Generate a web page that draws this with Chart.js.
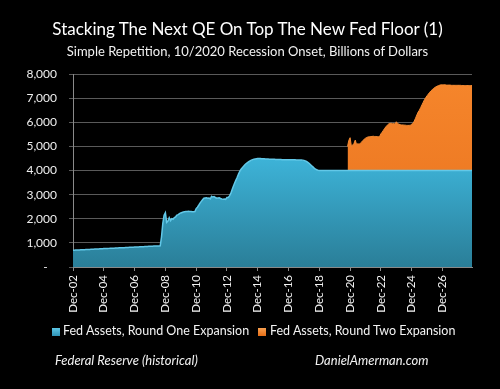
<!DOCTYPE html>
<html><head><meta charset="utf-8">
<script src="https://cdn.jsdelivr.net/npm/chart.js@4.4.1/dist/chart.umd.min.js"></script>
<style>
html,body{margin:0;padding:0;background:#000;}
#wrap{position:relative;width:500px;height:389px;overflow:hidden;background:#000;font-family:Lato,"Open Sans",sans-serif;color:#fff;}
canvas{position:absolute;left:0;top:0;}
.t{position:absolute;left:0;width:495px;text-align:center;white-space:nowrap;line-height:1;}
#title{top:20px;font-size:17px;color:#fff;}
#sub{top:45px;font-size:13px;color:#f2f2f2;}
.leg{position:absolute;top:325px;font-size:12.5px;line-height:1;white-space:nowrap;color:#f2f2f2;}
.box{position:absolute;top:328px;width:8px;height:8px;}
.foot{position:absolute;top:354px;font-size:13px;font-style:italic;line-height:1;white-space:nowrap;color:#f2f2f2;}
</style></head>
<body><div id="wrap">
<canvas id="c" width="500" height="389"></canvas>
<div class="t" id="title">Stacking The Next QE On Top The New Fed Floor (1)</div>
<div class="t" id="sub">Simple Repetition, 10/2020 Recession Onset, Billions of Dollars</div>
<div class="box" style="left:52px;background:linear-gradient(#5cc6e6,#2f93b6);"></div>
<div class="leg" id="leg1" style="left:63px;"></div>
<div class="box" style="left:258px;background:linear-gradient(#f8a050,#e66d16);"></div>
<div class="leg" id="leg2" style="left:270px;"></div>
<div class="foot" style="left:55px;">Federal Reserve (historical)</div>
<div class="foot" style="left:315px;">DanielAmerman.com</div>
</div>
<script>
// ---- data ----
const seriesNames = ["Fed Assets, Round One Expansion", "Fed Assets, Round Two Expansion"];
const firstMonth = "Dec-02";
const monthNames = ["Jan","Feb","Mar","Apr","May","Jun","Jul","Aug","Sep","Oct","Nov","Dec"];
const tickLabels = ["Dec-02","Dec-04","Dec-06","Dec-08","Dec-10","Dec-12","Dec-14","Dec-16","Dec-18","Dec-20","Dec-22","Dec-24","Dec-26"];

// Round One: monthly, Dec-02 .. Nov-28
const blueValues = [
  695,
  698,700,702,705,708,712,714,716,720,722,725,728,
  730,733,735,738,742,745,748,750,752,755,758,762,
  764,766,770,772,775,778,780,782,785,788,790,794,
  796,798,800,803,806,810,812,815,818,820,823,826,
  828,830,833,836,838,840,843,846,850,852,856,860,
  862,864,866,868,870,872,874,876,1250,1810,2150,2250,
  1850,1900,2040,1920,2000,1980,2050,2080,2150,2170,2210,2240,
  2260,2280,2290,2300,2300,2310,2300,2300,2290,2290,2300,2420,
  2480,2560,2650,2720,2790,2850,2860,2870,2850,2860,2820,2930,
  2900,2920,2880,2850,2860,2870,2840,2820,2810,2820,2800,2880,
  2880,2950,3050,3200,3350,3480,3600,3720,3850,3960,4050,4120,
  4180,4240,4290,4330,4370,4400,4430,4450,4470,4480,4490,4500,
  4500,4500,4490,4490,4490,4480,4480,4480,4470,4470,4470,4470,
  4470,4460,4460,4460,4460,4460,4450,4450,4450,4450,4450,4450,
  4450,4450,4450,4450,4450,4440,4440,4440,4440,4440,4430,4420,
  4400,4380,4340,4300,4250,4200,4150,4100,4060,4030,4010,4000,
  4000,4000,4000,4000,4000,4000,4000,4000,4000,4000,4000,4000,
  4000,4000,4000,4000,4000,4000,4000,4000,4000,4000,4000,4000,
  4000,4000,4000,4000,4000,4000,4000,4000,4000,4000,4000,4000,
  4000,4000,4000,4000,4000,4000,4000,4000,4000,4000,4000,4000,
  4000,4000,4000,4000,4000,4000,4000,4000,4000,4000,4000,4000,
  4000,4000,4000,4000,4000,4000,4000,4000,4000,4000,4000,4000,
  4000,4000,4000,4000,4000,4000,4000,4000,4000,4000,4000,4000,
  4000,4000,4000,4000,4000,4000,4000,4000,4000,4000,4000,4000,
  4000,4000,4000,4000,4000,4000,4000,4000,4000,4000,4000,4000,
  4000,4000,4000,4000,4000,4000,4000,4000,4000,4000,4000
];

// Round Two (stacked on top of the floor): monthly, Oct-20 .. Nov-28
const orangeStart = "Oct-20";
const orangeValues = [
  1000,1250,1360,
  1000,1060,1120,1260,1080,1110,1090,1130,1180,1240,1300,1340,
  1370,1390,1400,1410,1410,1420,1410,1410,1400,1400,1410,1520,
  1590,1670,1750,1820,1880,1930,1950,1960,1940,1950,1920,2020,
  1950,1920,1900,1890,1890,1880,1880,1870,1870,1870,1880,1920,
  1950,2050,2170,2300,2420,2500,2610,2720,2830,2940,3030,3100,
  3170,3240,3300,3350,3400,3440,3470,3500,3520,3540,3550,3550,
  3550,3550,3540,3540,3540,3540,3530,3530,3530,3530,3530,3530,
  3530,3530,3520,3520,3520,3520,3520,3520,3520,3520,3520
];

const yTicks = {min: 0, max: 8000, step: 1000};

// ---- build labels / table ----
const labels = [];
{
  let m = monthNames.indexOf(firstMonth.slice(0,3));
  let y = 2000 + parseInt(firstMonth.slice(4), 10);
  for (let k = 0; k < blueValues.length; k++) {
    labels.push(monthNames[m] + "-" + String(y % 100).padStart(2, "0"));
    m++; if (m === 12) { m = 0; y++; }
  }
}
const oStartIdx = labels.indexOf(orangeStart);
const orangeData = labels.map((l, i) => i < oStartIdx ? null : orangeValues[i - oStartIdx]);

document.getElementById("leg1").textContent = seriesNames[0];
document.getElementById("leg2").textContent = seriesNames[1];

function vGrad(chart, topVal, c1, c2) {
  const ca = chart.chartArea;
  if (!ca) return c1;
  const y0 = chart.scales.y.getPixelForValue(topVal);
  const g = chart.ctx.createLinearGradient(0, y0, 0, ca.bottom);
  g.addColorStop(0, c1);
  g.addColorStop(1, c2);
  return g;
}

Chart.defaults.font.family = "Lato";
new Chart(document.getElementById("c"), {
  type: "line",
  data: {
    labels: labels,
    datasets: [
      {
        label: seriesNames[0],
        data: blueValues,
        fill: "origin",
        backgroundColor: (ctx) => vGrad(ctx.chart, Math.max(...blueValues), "#3db3d8", "#2a7e98"),
        borderColor: "#62c8e8",
        borderWidth: 1.5,
        pointRadius: 0,
        tension: 0
      },
      {
        label: seriesNames[1],
        data: orangeData,
        fill: "-1",
        backgroundColor: (ctx) => vGrad(ctx.chart, 7600, "#f5852b", "#e8711d"),
        borderColor: "#f68c34",
        borderWidth: 1,
        pointRadius: 0,
        tension: 0,
        spanGaps: false
      }
    ]
  },
  options: {
    responsive: false,
    animation: false,
    devicePixelRatio: 1,
    layout: {padding: {left: 0, right: 28, top: 74, bottom: 72}},
    plugins: {legend: {display: false}, tooltip: {enabled: false}, title: {display: false}},
    scales: {
      x: {
        type: "category",
        offset: false,
        grid: {display: true, drawOnChartArea: false, drawTicks: true, tickLength: 4, color: "#8a8a8a"},
        border: {display: true, color: "#8a8a8a"},
        ticks: {autoSkip: false, maxRotation: 90, minRotation: 90, color: "#f2f2f2", font: {size: 11.5}, padding: 4},
        afterBuildTicks: (s) => { s.ticks = s.ticks.filter(t => tickLabels.includes(labels[t.value])); },
        afterFit: (s) => { s.height = 50; }
      },
      y: {
        stacked: true,
        min: yTicks.min,
        max: yTicks.max,
        ticks: {
          stepSize: yTicks.step, color: "#eeeeee", font: {size: 12}, padding: 12,
          callback: (v) => v === 0 ? "-   " : v.toLocaleString("en-US")
        },
        grid: {color: "#5a5a5a", lineWidth: 1, tickLength: 4, drawTicks: true},
        border: {display: true, color: "#8a8a8a"},
        afterFit: (s) => { s.width = 73; }
      }
    }
  }
});
</script>
</body></html>
